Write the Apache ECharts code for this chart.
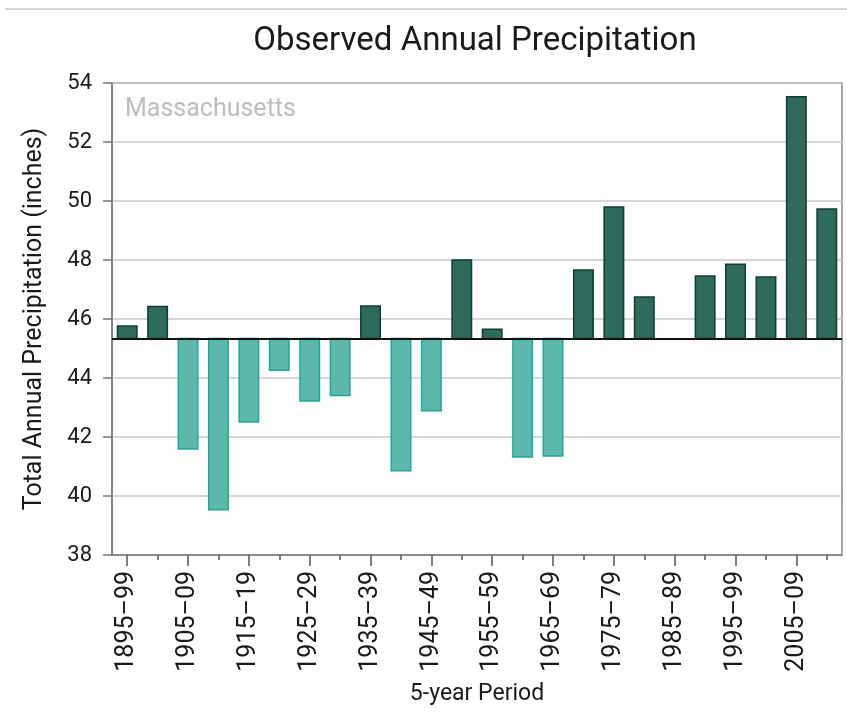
<!DOCTYPE html>
<html>
<head>
<meta charset="utf-8">
<script src="https://cdn.jsdelivr.net/npm/echarts@6/dist/echarts.min.js"></script>
<style>
html,body{margin:0;padding:0;background:#fff;}
#chart{width:847px;height:723px;}
</style>
</head>
<body>
<div id="chart"></div>
<script>
const categories = ['1895–99','1900–04','1905–09','1910–14','1915–19','1920–24','1925–29','1930–34','1935–39','1940–44','1945–49','1950–54','1955–59','1960–64','1965–69','1970–74','1975–79','1980–84','1985–89','1990–94','1995–99','2000–04','2005–09','2010–14'];
const precipitation = [45.76, 46.42, 41.59, 39.53, 42.51, 44.26, 43.22, 43.41, 46.44, 40.86, 42.89, 48.0, 45.65, 41.32, 41.36, 47.66, 49.8, 46.75, null, 47.46, 47.86, 47.42, 53.53, 49.73];
const baseline = 45.34;
const yTicks = {min: 38, max: 54, interval: 2};

const chart = echarts.init(document.getElementById('chart'));
const fontFamily = 'Roboto, "Open Sans", sans-serif';

const option = {
  animation: false,
  backgroundColor: '#fff',
  textStyle: {fontFamily},
  title: [
    {text: 'Observed Annual Precipitation', left: 470, top: 20, textAlign: 'center',
     textStyle: {fontSize: 33, fontWeight: 'normal', color: '#1a1a1a', fontFamily}},
    {text: 'Massachusetts', left: 120, top: 92,
     textStyle: {fontSize: 25, fontWeight: 'normal', color: '#bdbdbd', fontFamily}}
  ],
  graphic: [
    {type: 'line', shape: {x1: 5, y1: 9, x2: 847, y2: 9}, style: {stroke: '#c8c8c8', lineWidth: 1.5}, silent: true}
  ],
  grid: {left: 112, right: 5, top: 83, bottom: 168, show: true, borderColor: '#8a8a8a', borderWidth: 1.5, backgroundColor: '#fdfdfd'},
  xAxis: [
    {
      type: 'category', data: categories, boundaryGap: true, position: 'bottom',
      name: '5-year Period', nameLocation: 'middle', nameGap: 128,
      nameTextStyle: {fontSize: 23, color: '#1a1a1a', fontFamily},
      axisLine: {show: true, lineStyle: {color: '#777', width: 1.5}},
      axisTick: {show: true, alignWithLabel: true, interval: 0, length: 5, lineStyle: {color: '#555', width: 1.5}},
      axisLabel: {show: true, interval: 1, rotate: 90, fontSize: 25, color: '#1a1a1a', margin: 16, fontFamily},
      splitLine: {show: false}
    },
    {
      type: 'category', data: categories, boundaryGap: true, position: 'bottom',
      axisLine: {show: false},
      axisTick: {show: true, alignWithLabel: true, interval: 1, length: 11, lineStyle: {color: '#555', width: 1.5}},
      axisLabel: {show: false},
      splitLine: {show: false}
    }
  ],
  yAxis: {
    type: 'value', min: yTicks.min, max: yTicks.max, interval: yTicks.interval,
    name: 'Total Annual Precipitation (inches)', nameLocation: 'middle', nameGap: 65,
    nameTextStyle: {fontSize: 25, color: '#1a1a1a', fontFamily},
    axisLine: {show: true, lineStyle: {color: '#777', width: 1.5}},
    axisTick: {show: true, length: 9, lineStyle: {color: '#777', width: 1.5}},
    axisLabel: {fontSize: 22, color: '#1a1a1a', margin: 20, fontFamily},
    splitLine: {show: true, lineStyle: {color: '#c8c8c8', width: 1.5}}
  },
  series: [
    {
      type: 'custom',
      xAxisIndex: 0,
      data: precipitation.map((v, i) => [i, v]),
      encode: {x: 0, y: 1},
      renderItem: function (params, api) {
        const v = api.value(1);
        if (v == null || isNaN(v)) return null;
        const c = api.value(0);
        const top = api.coord([c, v]);
        const base = api.coord([c, baseline]);
        const w = api.size([1, 0])[0] * 0.64;
        const pos = v >= baseline;
        return {
          type: 'rect',
          shape: {x: top[0] - w / 2, y: Math.min(top[1], base[1]), width: w, height: Math.abs(base[1] - top[1])},
          style: {fill: pos ? '#2f6b5d' : '#5db8ac', stroke: pos ? '#113c33' : '#1fa898', lineWidth: 1.5}
        };
      },
      markLine: {
        silent: true, symbol: 'none', label: {show: false},
        lineStyle: {color: '#111', width: 2, type: 'solid'},
        data: [{yAxis: baseline}]
      },
      z: 3
    }
  ]
};
chart.setOption(option);
</script>
</body>
</html>
